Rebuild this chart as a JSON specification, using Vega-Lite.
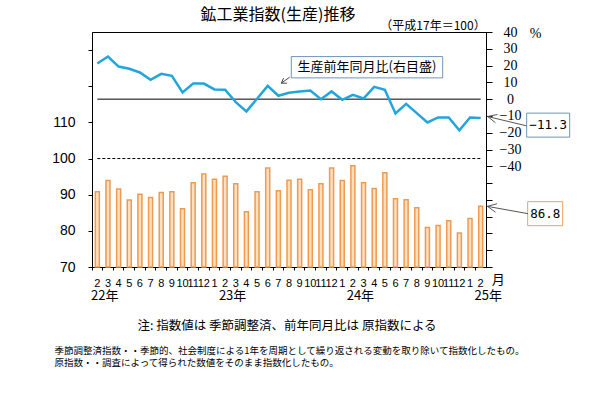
{
  "$schema": "https://vega.github.io/schema/vega-lite/v6.json",
  "width": 394,
  "height": 235,
  "autosize": {"type": "none"},
  "padding": {"left": 92, "top": 32, "right": 117, "bottom": 126},
  "background": "white",
  "config": {
    "view": {"stroke": "black", "strokeWidth": 1},
    "font": "Noto Sans CJK JP",
    "axis": {"domainColor": "black", "tickColor": "black", "labelColor": "black", "titleColor": "black", "grid": false}
  },
  "title": {"text": "鉱工業指数(生産)推移", "font": "Noto Sans CJK JP", "fontSize": 16, "fontWeight": "normal", "color": "black", "anchor": "middle", "dx": -11, "dy": 6, "offset": 2},
  "data": {"values": [
      {"ym": "2022-02", "idx": 90.8, "yoy": 21.2},
      {"ym": "2022-03", "idx": 93.9, "yoy": 25.4},
      {"ym": "2022-04", "idx": 91.6, "yoy": 19.4},
      {"ym": "2022-05", "idx": 88.5, "yoy": 18.1},
      {"ym": "2022-06", "idx": 90.1, "yoy": 15.9},
      {"ym": "2022-07", "idx": 89.2, "yoy": 11.5},
      {"ym": "2022-08", "idx": 90.6, "yoy": 15.1},
      {"ym": "2022-09", "idx": 90.8, "yoy": 13.9},
      {"ym": "2022-10", "idx": 86.1, "yoy": 4.0},
      {"ym": "2022-11", "idx": 93.3, "yoy": 9.3},
      {"ym": "2022-12", "idx": 95.7, "yoy": 9.3},
      {"ym": "2023-01", "idx": 94.3, "yoy": 5.8},
      {"ym": "2023-02", "idx": 95.1, "yoy": 5.6},
      {"ym": "2023-03", "idx": 93.0, "yoy": -1.8},
      {"ym": "2023-04", "idx": 85.3, "yoy": -7.3},
      {"ym": "2023-05", "idx": 90.8, "yoy": 0.2},
      {"ym": "2023-06", "idx": 97.4, "yoy": 7.9},
      {"ym": "2023-07", "idx": 91.1, "yoy": 2.0},
      {"ym": "2023-08", "idx": 94.0, "yoy": 3.8},
      {"ym": "2023-09", "idx": 94.3, "yoy": 4.5},
      {"ym": "2023-10", "idx": 91.4, "yoy": 5.1},
      {"ym": "2023-11", "idx": 93.0, "yoy": 0.0},
      {"ym": "2023-12", "idx": 97.4, "yoy": 4.6},
      {"ym": "2024-01", "idx": 93.9, "yoy": -0.4},
      {"ym": "2024-02", "idx": 98.0, "yoy": 2.6},
      {"ym": "2024-03", "idx": 93.3, "yoy": 0.4},
      {"ym": "2024-04", "idx": 91.7, "yoy": 7.3},
      {"ym": "2024-05", "idx": 96.1, "yoy": 5.6},
      {"ym": "2024-06", "idx": 88.9, "yoy": -8.5},
      {"ym": "2024-07", "idx": 88.6, "yoy": -2.8},
      {"ym": "2024-08", "idx": 86.4, "yoy": -8.3},
      {"ym": "2024-09", "idx": 80.9, "yoy": -13.9},
      {"ym": "2024-10", "idx": 81.5, "yoy": -10.9},
      {"ym": "2024-11", "idx": 82.8, "yoy": -10.9},
      {"ym": "2024-12", "idx": 79.4, "yoy": -18.5},
      {"ym": "2025-01", "idx": 83.4, "yoy": -10.9},
      {"ym": "2025-02", "idx": 86.8, "yoy": -11.3}
  ]},
  "layer": [
    {
      "mark": {"type": "bar", "size": 4, "fill": "#FCE0C4", "stroke": "#F09A50", "strokeWidth": 1.5},
      "encoding": {
        "x": {
          "field": "ym", "type": "ordinal",
          "scale": {"paddingInner": 0, "paddingOuter": 0},
          "axis": {
            "labelExpr": "'' + toNumber(slice(datum.value, 5))",
            "labelAngle": 0, "labelFont": "Liberation Sans", "labelFontSize": 11,
            "labelOverlap": false,
            "bandPosition": 0,
            "tickSize": 3, "labelPadding": 7,
            "title": null
          }
        },
        "y": {
          "field": "idx", "type": "quantitative",
          "scale": {"domain": [70, 135], "nice": false, "zero": false},
          "axis": {
            "orient": "left",
            "values": [70, 80, 90, 100, 110, 120, 130],
            "labelExpr": "datum.value <= 110 ? datum.label : ''",
            "labelFont": "Liberation Sans", "labelFontSize": 14,
            "tickSize": 4, "labelPadding": 13, "labelOverlap": false,
            "title": "（平成17年＝100）",
            "titleFont": "Noto Sans CJK JP", "titleFontSize": 12, "titleFontWeight": "normal",
            "titleAngle": 0, "titleX": 340.5, "titleY": -7, "titleAlign": "center", "titleBaseline": "middle"
          }
        },
        "y2": {"datum": 70}
      }
    },
    {
      "data": {"values": [{"ym": "2022-02", "idx": 100}, {"ym": "2025-02", "idx": 100}]},
      "mark": {"type": "line", "color": "black", "strokeWidth": 1, "strokeDash": [3, 2]},
      "encoding": {
        "x": {"field": "ym", "type": "ordinal"},
        "y": {"field": "idx", "type": "quantitative", "scale": {"domain": [70, 135], "nice": false, "zero": false}, "axis": null}
      }
    },
    {
      "data": {"values": [{"ym": "2022-02", "yoy": 0}, {"ym": "2025-02", "yoy": 0}]},
      "mark": {"type": "line", "color": "black", "strokeWidth": 1},
      "encoding": {
        "x": {"field": "ym", "type": "ordinal"},
        "y": {"field": "yoy", "type": "quantitative", "scale": {"domain": [-100, 40], "nice": false, "zero": false}, "axis": null}
      }
    },
    {
      "mark": {"type": "line", "color": "#22A5DD", "strokeWidth": 2.5},
      "encoding": {
        "x": {"field": "ym", "type": "ordinal"},
        "y": {
          "field": "yoy", "type": "quantitative",
          "scale": {"domain": [-100, 40], "nice": false, "zero": false},
          "axis": {
            "orient": "right",
            "values": [-100, -90, -80, -70, -60, -50, -40, -30, -20, -10, 0, 10, 20, 30, 40],
            "labelExpr": "datum.value >= -40 ? datum.label : ''",
            "labelFont": "Liberation Serif", "labelFontSize": 14, "labelOverlap": false,
            "labelAlign": "center", "tickSize": 6, "labelPadding": 18,
            "title": "%",
            "titleFont": "Liberation Serif", "titleFontSize": 14, "titleFontWeight": "normal",
            "titleAngle": 0, "titleX": 49, "titleY": 1, "titleAlign": "center", "titleBaseline": "middle"
          }
        }
      }
    },
    {
      "data": {"values": [{"ym": "2025-02", "idx": 86.8, "label": "86.8"}]},
      "mark": {"type": "point", "shape": "M47,-4.6H82V19.4H47Z", "size": 4, "filled": true, "fill": "white", "stroke": "#F0A060", "strokeWidth": 1, "opacity": 1},
      "encoding": {
        "x": {"field": "ym", "type": "ordinal"},
        "y": {"field": "idx", "type": "quantitative", "scale": {"domain": [70, 135], "nice": false, "zero": false}, "axis": null}
      }
    },
    {
      "data": {"values": [{"ym": "2025-02", "idx": 86.8, "label": "86.8"}]},
      "mark": {"type": "point", "shape": "M47.3,7.4L6.7,0.1M16.4,-2.5L6.7,0.1L14.9,5.9", "size": 4, "filled": false, "stroke": "#555555", "strokeWidth": 1, "opacity": 1},
      "encoding": {
        "x": {"field": "ym", "type": "ordinal"},
        "y": {"field": "idx", "type": "quantitative", "scale": {"domain": [70, 135], "nice": false, "zero": false}, "axis": null}
      }
    },
    {
      "data": {"values": [{"ym": "2025-02", "idx": 86.8, "label": "86.8"}]},
      "mark": {"type": "text", "font": "DejaVu Sans Mono", "fontSize": 12.5, "color": "black", "align": "center", "baseline": "middle", "dx": 64.5, "dy": 7.4},
      "encoding": {
        "x": {"field": "ym", "type": "ordinal"},
        "y": {"field": "idx", "type": "quantitative", "scale": {"domain": [70, 135], "nice": false, "zero": false}, "axis": null},
        "text": {"field": "label"}
      }
    },
    {
      "data": {"values": [{"ym": "2025-02", "yoy": -11.3, "label": "−11.3"}]},
      "mark": {"type": "point", "shape": "M46,-5H89V19H46Z", "size": 4, "filled": true, "fill": "white", "stroke": "#7094B8", "strokeWidth": 1, "opacity": 1},
      "encoding": {
        "x": {"field": "ym", "type": "ordinal"},
        "y": {"field": "yoy", "type": "quantitative", "scale": {"domain": [-100, 40], "nice": false, "zero": false}, "axis": null}
      }
    },
    {
      "data": {"values": [{"ym": "2025-02", "yoy": -11.3, "label": "−11.3"}]},
      "mark": {"type": "point", "shape": "M45.7,7.7L7,-1.6M16.8,-3.6L7,-1.6L14.8,4.6", "size": 4, "filled": false, "stroke": "#555555", "strokeWidth": 1, "opacity": 1},
      "encoding": {
        "x": {"field": "ym", "type": "ordinal"},
        "y": {"field": "yoy", "type": "quantitative", "scale": {"domain": [-100, 40], "nice": false, "zero": false}, "axis": null}
      }
    },
    {
      "data": {"values": [{"ym": "2025-02", "yoy": -11.3, "label": "−11.3"}]},
      "mark": {"type": "text", "font": "DejaVu Sans Mono", "fontSize": 12.5, "color": "black", "align": "center", "baseline": "middle", "dx": 67.5, "dy": 7},
      "encoding": {
        "x": {"field": "ym", "type": "ordinal"},
        "y": {"field": "yoy", "type": "quantitative", "scale": {"domain": [-100, 40], "nice": false, "zero": false}, "axis": null},
        "text": {"field": "label"}
      }
    },
    {
      "data": {"values": [{"ym": "2023-06", "yoy": 7.9, "label": "生産前年同月比(右目盛)"}]},
      "mark": {"type": "point", "shape": "M23.6,-29.3H175V-8H23.6Z", "size": 4, "filled": true, "fill": "white", "stroke": "#7094B8", "strokeWidth": 1, "opacity": 1},
      "encoding": {
        "x": {"field": "ym", "type": "ordinal"},
        "y": {"field": "yoy", "type": "quantitative", "scale": {"domain": [-100, 40], "nice": false, "zero": false}, "axis": null}
      }
    },
    {
      "data": {"values": [{"ym": "2023-06", "yoy": 7.9, "label": "生産前年同月比(右目盛)"}]},
      "mark": {"type": "point", "shape": "M21.9,-8.7L13.6,-2.7M19.2,-2.7L13.6,-2.7L15.9,-7.7", "size": 4, "filled": false, "stroke": "#444444", "strokeWidth": 1, "opacity": 1},
      "encoding": {
        "x": {"field": "ym", "type": "ordinal"},
        "y": {"field": "yoy", "type": "quantitative", "scale": {"domain": [-100, 40], "nice": false, "zero": false}, "axis": null}
      }
    },
    {
      "data": {"values": [{"ym": "2023-06", "yoy": 7.9, "label": "生産前年同月比(右目盛)"}]},
      "mark": {"type": "text", "font": "Noto Sans CJK JP", "fontSize": 13, "color": "black", "align": "center", "baseline": "middle", "dx": 99.3, "dy": -18.6},
      "encoding": {
        "x": {"field": "ym", "type": "ordinal"},
        "y": {"field": "yoy", "type": "quantitative", "scale": {"domain": [-100, 40], "nice": false, "zero": false}, "axis": null},
        "text": {"field": "label"}
      }
    },
    {
      "data": {"values": [
        {"ym": "2022-02", "idx": 70, "label": "22年"},
        {"ym": "2023-02", "idx": 70, "label": "23年"},
        {"ym": "2024-02", "idx": 70, "label": "24年"},
        {"ym": "2025-02", "idx": 70, "label": "25年"}
      ]},
      "mark": {"type": "text", "font": "Noto Sans CJK JP", "fontSize": 13, "color": "black", "align": "center", "baseline": "middle", "dx": 7.5, "dy": 28.7},
      "encoding": {
        "x": {"field": "ym", "type": "ordinal"},
        "y": {"field": "idx", "type": "quantitative", "scale": {"domain": [70, 135], "nice": false, "zero": false}, "axis": null},
        "text": {"field": "label"}
      }
    },
    {
      "data": {"values": [{"ym": "2025-02", "idx": 70, "label": "月"}]},
      "mark": {"type": "text", "font": "Noto Sans CJK JP", "fontSize": 13, "color": "black", "align": "center", "baseline": "middle", "dx": 17.5, "dy": 13.2},
      "encoding": {
        "x": {"field": "ym", "type": "ordinal"},
        "y": {"field": "idx", "type": "quantitative", "scale": {"domain": [70, 135], "nice": false, "zero": false}, "axis": null},
        "text": {"field": "label"}
      }
    },
    {
      "data": {"values": [{"ym": "2023-08", "idx": 70, "label": "注: 指数値は 季節調整済、前年同月比は 原指数による"}]},
      "mark": {"type": "text", "font": "Noto Sans CJK JP", "fontSize": 12.5, "color": "black", "align": "center", "baseline": "middle", "dx": -2, "dy": 58.7},
      "encoding": {
        "x": {"field": "ym", "type": "ordinal"},
        "y": {"field": "idx", "type": "quantitative", "scale": {"domain": [70, 135], "nice": false, "zero": false}, "axis": null},
        "text": {"field": "label"}
      }
    },
    {
      "data": {"values": [{"ym": "2022-02", "idx": 70, "note": "季節調整済指数・・季節的、社会制度による1年を周期として繰り返される変動を取り除いて指数化したもの。\n原指数・・調査によって得られた数値をそのまま指数化したもの。"}]},
      "mark": {"type": "text", "font": "Noto Sans CJK JP", "fontSize": 9.5, "color": "black", "align": "left", "baseline": "top", "lineBreak": "\n", "lineHeight": 12.5, "dx": -42.7, "dy": 78.6},
      "encoding": {
        "x": {"field": "ym", "type": "ordinal"},
        "y": {"field": "idx", "type": "quantitative", "scale": {"domain": [70, 135], "nice": false, "zero": false}, "axis": null},
        "text": {"field": "note"}
      }
    }
  ],
  "resolve": {"scale": {"y": "independent"}}
}
